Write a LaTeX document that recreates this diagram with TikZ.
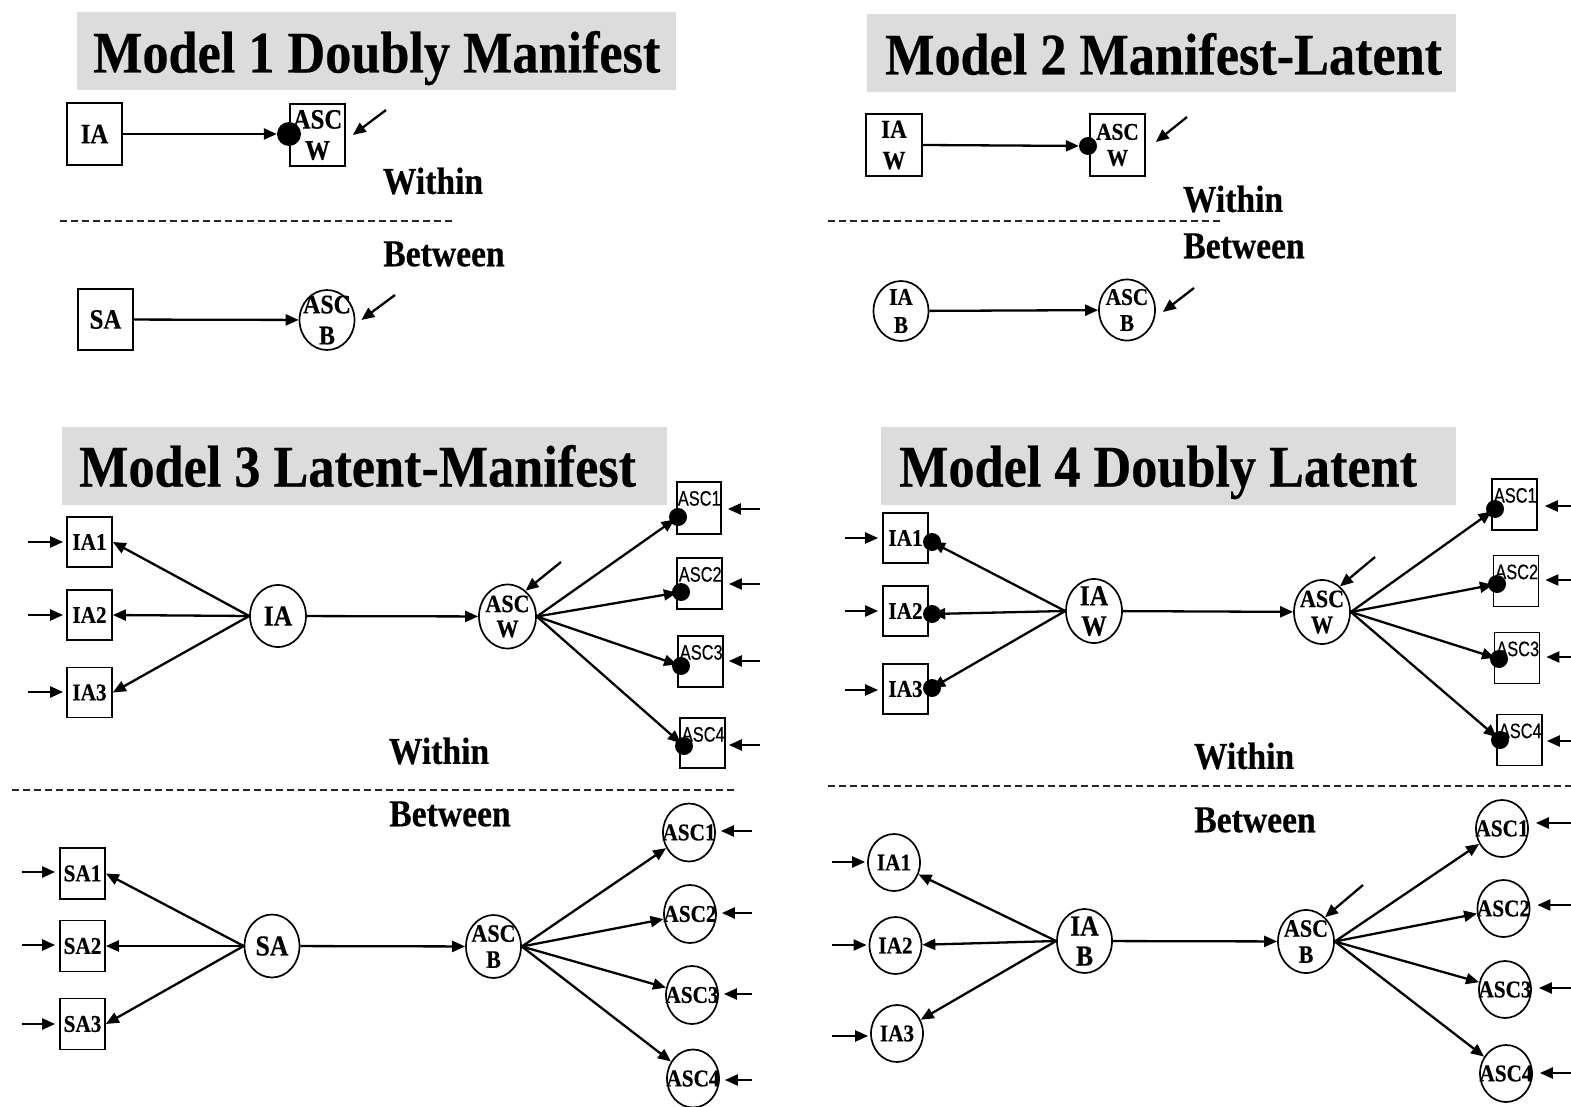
\documentclass[tikz,border=0pt]{standalone}
\usepackage{fontspec}
\setmainfont{Liberation Serif}[FakeStretch=0.885,BoldFeatures={FakeBold=0.4}]
\newfontfamily\ascsans{Liberation Sans}[FakeStretch=0.78,FakeBold=0.3]
\usetikzlibrary{arrows.meta,shapes.geometric,backgrounds}
\definecolor{ttlgray}{HTML}{DCDCDC}
\newcommand\fsz[2]{\fontsize{#1}{#2}\selectfont}
\begin{document}
\begin{tikzpicture}[x=1pt,y=-1pt,
  arr/.style={-{Triangle[length=13pt,width=11pt]},line width=2.3pt},
  bx/.style={rectangle,draw,line width=1.7pt,inner sep=0pt,align=center},
  el/.style={ellipse,draw,line width=1.7pt,inner sep=-14pt,align=center},
  sz/.style 2 args={minimum width=#1,minimum height=#2},
  blob/.style={circle,fill=black,inner sep=0pt,minimum size=#1},
  ttl/.style={font=\bfseries\fsz{59}{60},inner sep=0pt,anchor=base west},
  lvl/.style={font=\bfseries\fsz{38}{40},inner sep=0pt},
  dsh/.style={line width=1.3pt,dash pattern=on 7pt off 4pt,black!85},
  asclab/.style={font=\ascsans\fsz{21}{22},inner sep=0pt,anchor=base east},
  dotarr/.style={arr,shorten >=-5pt}
]
\useasboundingbox (0,0) rectangle (1571,1107);
\begin{pgfonlayer}{background}
\fill[ttlgray] (77,12) rectangle (676,90);
\fill[ttlgray] (867,14) rectangle (1456,92);
\fill[ttlgray] (62,427) rectangle (667,505);
\fill[ttlgray] (881,427) rectangle (1456,505);
\end{pgfonlayer}

% ================= Model 1 =================
\node[ttl] (t1) at (93,72.5) {Model 1 Doubly Manifest};
\node[bx,sz={55pt}{62pt},font=\bfseries\fsz{28}{30}] (m1ia) at (94.5,134) {IA};
\node[bx,sz={55pt}{62pt},font=\bfseries\fsz{28}{31}] (m1ascw) at (317.5,135) {ASC\\W};
\node[blob=24pt] (m1d) at (289,134) {};
\draw[arr] (m1ia.east) -- (m1d);
\coordinate (m1r1) at (386,110);
\draw[arr] (m1r1) -- ([xshift=7pt]m1ascw.east);
\node[lvl] (m1w) at (433,181) {Within};
\draw[dsh] (60,221) -- (452,221);
\node[lvl] (m1b) at (444,254) {Between};
\node[bx,sz={55pt}{61pt},font=\bfseries\fsz{28}{30}] (m1sa) at (105.5,319.5) {SA};
\node[el,sz={55pt}{60pt},font=\bfseries\fsz{27}{31}] (m1ascb) at (327,320) {ASC\\B};
\draw[arr] (m1sa) -- (m1ascb);
\coordinate (m1r2) at (395,295);
\draw[arr] (m1r2) -- ([xshift=6pt]m1ascb.east);

% ================= Model 2 =================
\node[ttl] (t2) at (885,74.5) {Model 2 Manifest-Latent};
\node[bx,sz={56pt}{62pt},font=\bfseries\fsz{26}{31}] (m2iaw) at (894,145) {IA\\W};
\node[bx,sz={55pt}{62pt},font=\bfseries\fsz{24}{26}] (m2ascw) at (1117.5,145) {ASC\\W};
\node[blob=18pt] (m2d) at (1088,146) {};
\draw[arr] (m2iaw.east) -- (m2d);
\coordinate (m2r1) at (1187,117);
\draw[arr] (m2r1) -- ([xshift=10pt,yshift=3pt]m2ascw.east);
\node[lvl] (m2w) at (1233,199) {Within};
\draw[dsh] (828,221) -- (1220,221);
\node[lvl] (m2b) at (1244,246) {Between};
\node[el,sz={55pt}{60pt},font=\bfseries\fsz{24}{28}] (m2iab) at (901,311) {IA\\B};
\node[el,sz={56pt}{61pt},font=\bfseries\fsz{24}{26}] (m2ascb) at (1127,310) {ASC\\B};
\draw[arr] (m2iab) -- (m2ascb);
\coordinate (m2r2) at (1194,288);
\draw[arr] (m2r2) -- ([xshift=7pt,yshift=-2pt]m2ascb.east);

% ================= Model 3 =================
\node[ttl] (t3) at (79,486.5) {Model 3 Latent-Manifest};
% within
\node[bx,sz={45pt}{50pt},font=\bfseries\fsz{24}{24}] (m3ia1) at (89.5,542) {IA1};
\node[bx,sz={45pt}{50pt},font=\bfseries\fsz{24}{24}] (m3ia2) at (89.5,615) {IA2};
\node[bx,sz={45pt}{50pt},font=\bfseries\fsz{24}{24}] (m3ia3) at (89.5,692.5) {IA3};
\coordinate (m3i1) at (28,542);
\coordinate (m3i2) at (28,615);
\coordinate (m3i3) at (28,692);
\draw[arr,shorten >=3pt] (m3i1) -- (m3i1 -| m3ia1.west);
\draw[arr,shorten >=3pt] (m3i2) -- (m3i2 -| m3ia2.west);
\draw[arr,shorten >=3pt] (m3i3) -- (m3i3 -| m3ia3.west);
\node[el,sz={56pt}{62pt},font=\bfseries\fsz{29}{30}] (m3ia) at (278,616) {IA};
\draw[arr] (m3ia.west) -- (m3ia1.east);
\draw[arr] (m3ia.west) -- (m3ia2.east);
\draw[arr] (m3ia.west) -- (m3ia3.east);
\node[el,sz={57pt}{64pt},font=\bfseries\fsz{25}{25}] (m3ascw) at (507.5,616.5) {ASC\\W};
\draw[arr] (m3ia) -- (m3ascw);
\coordinate (m3r0) at (561,562);
\draw[arr] (m3r0) -- (m3ascw.55);
\node[bx,sz={44pt}{52pt}] (m3a1) at (699,508) {};
\node[bx,sz={45pt}{51pt}] (m3a2) at (699.5,583.5) {};
\node[bx,sz={45pt}{51pt}] (m3a3) at (700.5,661.5) {};
\node[bx,sz={45pt}{50pt}] (m3a4) at (702.5,743) {};
\node[asclab] (m3a1t) at ([xshift=-1pt,yshift=-24.5pt]m3a1.north east) {ASC1};
\node[asclab] (m3a2t) at ([xshift=-1pt,yshift=-24.5pt]m3a2.north east) {ASC2};
\node[asclab] (m3a3t) at ([xshift=-1pt,yshift=-24.5pt]m3a3.north east) {ASC3};
\node[asclab] (m3a4t) at ([xshift=-1pt,yshift=-24.5pt]m3a4.north east) {ASC4};
\node[blob=18pt] (m3d1) at (678,517) {};
\node[blob=18pt] (m3d2) at (681,592) {};
\node[blob=18pt] (m3d3) at (681,666) {};
\node[blob=18pt] (m3d4) at (684,746) {};
\begin{pgfonlayer}{background}
\draw[dotarr] (m3ascw.east) -- (m3d1);
\draw[dotarr] (m3ascw.east) -- (m3d2);
\draw[dotarr] (m3ascw.east) -- (m3d3);
\draw[dotarr] (m3ascw.east) -- (m3d4);
\end{pgfonlayer}
\coordinate (m3o1) at (760,509);
\coordinate (m3o2) at (760,584);
\coordinate (m3o3) at (760,661);
\coordinate (m3o4) at (760,745);
\draw[arr,shorten >=6pt] (m3o1) -- (m3o1 -| m3a1.east);
\draw[arr,shorten >=6pt] (m3o2) -- (m3o2 -| m3a2.east);
\draw[arr,shorten >=5pt] (m3o3) -- (m3o3 -| m3a3.east);
\draw[arr,shorten >=3pt] (m3o4) -- (m3o4 -| m3a4.east);
\node[lvl] (m3w) at (439,751) {Within};
\draw[dsh] (12,790) -- (735,790);
\node[lvl] (m3b) at (450,814) {Between};
% between
\node[bx,sz={45pt}{51pt},font=\bfseries\fsz{24}{24}] (m3sa1) at (82.5,873.5) {SA1};
\node[bx,sz={45pt}{51pt},font=\bfseries\fsz{24}{24}] (m3sa2) at (82.5,946) {SA2};
\node[bx,sz={45pt}{51pt},font=\bfseries\fsz{24}{24}] (m3sa3) at (82.5,1024) {SA3};
\coordinate (m3s1) at (22,872);
\coordinate (m3s2) at (22,945);
\coordinate (m3s3) at (22,1024);
\draw[arr,shorten >=4pt] (m3s1) -- (m3s1 -| m3sa1.west);
\draw[arr,shorten >=4pt] (m3s2) -- (m3s2 -| m3sa2.west);
\draw[arr,shorten >=4pt] (m3s3) -- (m3s3 -| m3sa3.west);
\node[el,sz={55pt}{63pt},font=\bfseries\fsz{29}{30}] (m3sa) at (272,946) {SA};
\draw[arr] (m3sa.west) -- (m3sa1.east);
\draw[arr] (m3sa.west) -- (m3sa2.east);
\draw[arr] (m3sa.west) -- (m3sa3.east);
\node[el,sz={55pt}{63pt},font=\bfseries\fsz{25}{26}] (m3ascb) at (493.5,946.5) {ASC\\B};
\draw[arr] (m3sa) -- (m3ascb);
\node[el,sz={52pt}{58pt},font=\bfseries\fsz{24}{24}] (m3b1) at (689,832.5) {ASC1};
\node[el,sz={52pt}{58pt},font=\bfseries\fsz{24}{24}] (m3b2) at (690,914) {ASC2};
\node[el,sz={52pt}{58pt},font=\bfseries\fsz{24}{24}] (m3b3) at (692,995) {ASC3};
\node[el,sz={52pt}{58pt},font=\bfseries\fsz{24}{24}] (m3b4) at (693,1078.5) {ASC4};
\draw[arr] (m3ascb.east) -- (m3b1);
\draw[arr] (m3ascb.east) -- (m3b2);
\draw[arr] (m3ascb.east) -- (m3b3);
\draw[arr] (m3ascb.east) -- (m3b4);
\coordinate (m3q1) at (752,831);
\coordinate (m3q2) at (752,913);
\coordinate (m3q3) at (752,994);
\coordinate (m3q4) at (752,1080);
\draw[arr,shorten >=5pt] (m3q1) -- (m3q1 -| m3b1.east);
\draw[arr,shorten >=5pt] (m3q2) -- (m3q2 -| m3b2.east);
\draw[arr,shorten >=5pt] (m3q3) -- (m3q3 -| m3b3.east);
\draw[arr,shorten >=5pt] (m3q4) -- (m3q4 -| m3b4.east);

% ================= Model 4 =================
\node[ttl] (t4) at (899,486.5) {Model 4 Doubly Latent};
% within
\node[bx,sz={45pt}{50pt},font=\bfseries\fsz{24}{24}] (m4ia1) at (905.5,538) {IA1};
\node[bx,sz={45pt}{50pt},font=\bfseries\fsz{24}{24}] (m4ia2) at (905.5,611) {IA2};
\node[bx,sz={45pt}{50pt},font=\bfseries\fsz{24}{24}] (m4ia3) at (905.5,689) {IA3};
\coordinate (m4i1) at (845,538);
\coordinate (m4i2) at (845,611);
\coordinate (m4i3) at (845,690);
\draw[arr,shorten >=4pt] (m4i1) -- (m4i1 -| m4ia1.west);
\draw[arr,shorten >=4pt] (m4i2) -- (m4i2 -| m4ia2.west);
\draw[arr,shorten >=4pt] (m4i3) -- (m4i3 -| m4ia3.west);
\node[blob=18pt] (m4e1) at (932,542) {};
\node[blob=18pt] (m4e2) at (932,614) {};
\node[blob=18pt] (m4e3) at (932,688) {};
\node[el,sz={56pt}{64pt},font=\bfseries\fsz{29}{30}] (m4iaw) at (1094,611) {IA\\W};
\begin{pgfonlayer}{background}
\draw[arr,shorten >=-9pt] (m4iaw.west) -- (m4e1);
\draw[arr,shorten >=-9pt] (m4iaw.west) -- (m4e2);
\draw[arr,shorten >=-9pt] (m4iaw.west) -- (m4e3);
\end{pgfonlayer}
\node[el,sz={56pt}{64pt},font=\bfseries\fsz{25}{26}] (m4ascw) at (1322,612) {ASC\\W};
\draw[arr] (m4iaw) -- (m4ascw);
\coordinate (m4r0) at (1375,557);
\draw[arr] (m4r0) -- (m4ascw.55);
\node[bx,sz={45pt}{51pt}] (m4a1) at (1514.5,504.5) {};
\node[bx,sz={45pt}{51pt}] (m4a2) at (1516,581) {};
\node[bx,sz={45pt}{51pt}] (m4a3) at (1517,658) {};
\node[bx,sz={45pt}{51pt}] (m4a4) at (1519.5,740) {};
\node[asclab] (m4a1t) at ([xshift=-1pt,yshift=-24.5pt]m4a1.north east) {ASC1};
\node[asclab] (m4a2t) at ([xshift=-1pt,yshift=-24.5pt]m4a2.north east) {ASC2};
\node[asclab] (m4a3t) at ([xshift=-1pt,yshift=-24.5pt]m4a3.north east) {ASC3};
\node[asclab] (m4a4t) at ([xshift=-1pt,yshift=-24.5pt]m4a4.north east) {ASC4};
\node[blob=18pt] (m4d1) at (1495,509) {};
\node[blob=18pt] (m4d2) at (1497,584) {};
\node[blob=18pt] (m4d3) at (1499,659) {};
\node[blob=18pt] (m4d4) at (1500,740) {};
\begin{pgfonlayer}{background}
\draw[dotarr] (m4ascw.east) -- (m4d1);
\draw[dotarr] (m4ascw.east) -- (m4d2);
\draw[dotarr] (m4ascw.east) -- (m4d3);
\draw[dotarr] (m4ascw.east) -- (m4d4);
\end{pgfonlayer}
\coordinate (m4o1) at (1571,506);
\coordinate (m4o2) at (1571,580);
\coordinate (m4o3) at (1571,657);
\coordinate (m4o4) at (1571,741);
\draw[arr,shorten >=7pt] (m4o1) -- (m4o1 -| m4a1.east);
\draw[arr,shorten >=6pt] (m4o2) -- (m4o2 -| m4a2.east);
\draw[arr,shorten >=6pt] (m4o3) -- (m4o3 -| m4a3.east);
\draw[arr,shorten >=4pt] (m4o4) -- (m4o4 -| m4a4.east);
\node[lvl] (m4w) at (1244,756) {Within};
\draw[dsh] (828,786) -- (1571,786);
\node[lvl] (m4b) at (1255,820) {Between};
% between
\node[el,sz={52pt}{57pt},font=\bfseries\fsz{24}{24}] (m4ib1) at (894,862.5) {IA1};
\node[el,sz={52pt}{57pt},font=\bfseries\fsz{24}{24}] (m4ib2) at (895.5,945.5) {IA2};
\node[el,sz={52pt}{57pt},font=\bfseries\fsz{24}{24}] (m4ib3) at (897,1033.5) {IA3};
\coordinate (m4s1) at (832,862);
\coordinate (m4s2) at (832,945);
\coordinate (m4s3) at (832,1036);
\draw[arr,shorten >=2pt] (m4s1) -- (m4s1 -| m4ib1.west);
\draw[arr,shorten >=2pt] (m4s2) -- (m4s2 -| m4ib2.west);
\draw[arr,shorten >=2pt] (m4s3) -- (m4s3 -| m4ib3.west);
\node[el,sz={55pt}{64pt},font=\bfseries\fsz{29}{30}] (m4iab) at (1084.5,941) {IA\\B};
\draw[arr] (m4iab.west) -- (m4ib1);
\draw[arr] (m4iab.west) -- (m4ib2);
\draw[arr] (m4iab.west) -- (m4ib3);
\node[el,sz={56pt}{63pt},font=\bfseries\fsz{25}{26}] (m4ascb) at (1306,941.5) {ASC\\B};
\draw[arr] (m4iab) -- (m4ascb);
\coordinate (m4r1) at (1363,885);
\draw[arr] (m4r1) -- (m4ascb.52);
\node[el,sz={52pt}{57pt},font=\bfseries\fsz{24}{24}] (m4b1) at (1502,828.5) {ASC1};
\node[el,sz={52pt}{57pt},font=\bfseries\fsz{24}{24}] (m4b2) at (1503.5,908.5) {ASC2};
\node[el,sz={52pt}{57pt},font=\bfseries\fsz{24}{24}] (m4b3) at (1505,989.5) {ASC3};
\node[el,sz={52pt}{57pt},font=\bfseries\fsz{24}{24}] (m4b4) at (1506,1073.5) {ASC4};
\draw[arr] (m4ascb.east) -- (m4b1);
\draw[arr] (m4ascb.east) -- (m4b2);
\draw[arr] (m4ascb.east) -- (m4b3);
\draw[arr] (m4ascb.east) -- (m4b4);
\coordinate (m4q1) at (1571,823);
\coordinate (m4q2) at (1571,905);
\coordinate (m4q3) at (1571,988);
\coordinate (m4q4) at (1571,1073);
\draw[arr,shorten >=7pt] (m4q1) -- (m4q1 -| m4b1.east);
\draw[arr,shorten >=7pt] (m4q2) -- (m4q2 -| m4b2.east);
\draw[arr,shorten >=7pt] (m4q3) -- (m4q3 -| m4b3.east);
\draw[arr,shorten >=7pt] (m4q4) -- (m4q4 -| m4b4.east);
\end{tikzpicture}
\end{document}
